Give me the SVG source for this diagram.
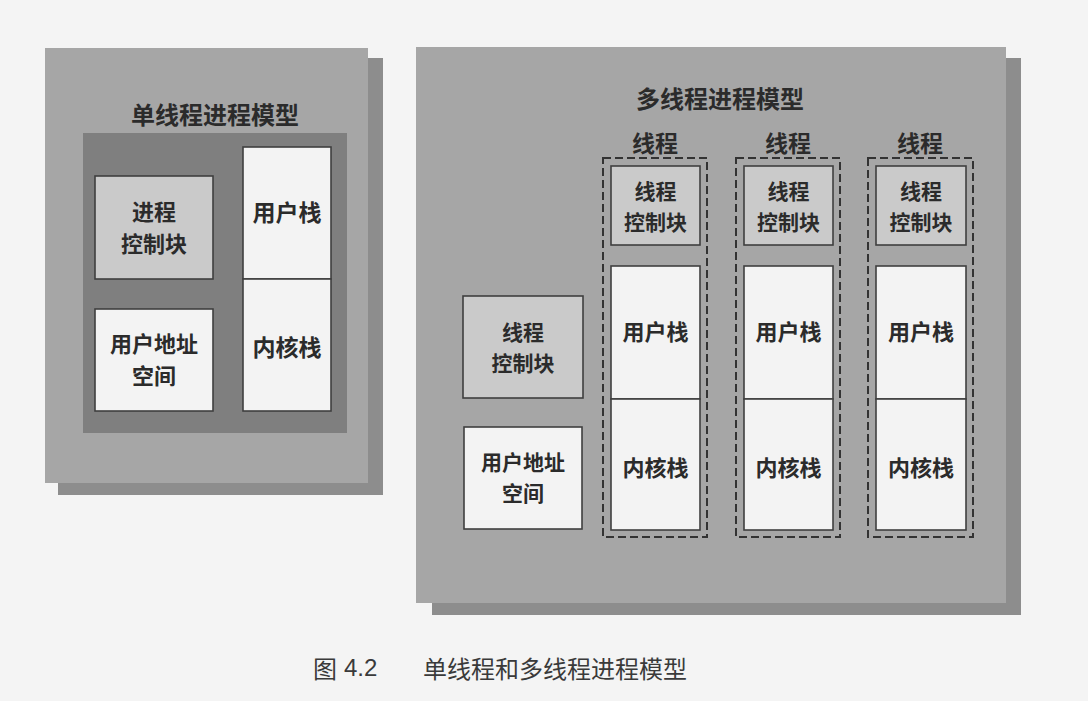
<svg xmlns="http://www.w3.org/2000/svg" width="1088" height="701" viewBox="0 0 1088 701">
<style>
.t{font-family:"Noto Sans CJK SC","Noto Sans CJK JP",sans-serif;font-weight:bold;fill:#2b2b2b;text-anchor:middle;dominant-baseline:central}
.e{font-size:21px}
.f{font-size:22px}
.h{font-size:23px}
.g{font-size:24px}
.panel{fill:#a6a6a6}
.shadow{fill:#8d8d8d}
.dark{fill:#7f7f7f}
.gbox{fill:#cacaca;stroke:#3f3f3f;stroke-width:1.6}
.wbox{fill:#f3f3f3;stroke:#3f3f3f;stroke-width:1.6}
.dash{fill:none;stroke:#333;stroke-width:2;stroke-dasharray:8 4}
.cap{font-family:"Noto Sans CJK SC","Noto Sans CJK JP",sans-serif;font-size:24px;fill:#3a3a3a;dominant-baseline:central}
</style>
<rect x="0" y="0" width="1088" height="701" fill="#f4f4f4"/>

<g id="single-thread-model">
  <rect class="shadow" x="58" y="58" width="325" height="437"/>
  <rect class="panel" x="45" y="48" width="323" height="435"/>
  <text class="t g" x="215" y="113">单线程进程模型</text>
  <rect class="dark" x="83" y="133" width="264" height="300"/>
</g>
<g id="s-pcb">
  <rect class="gbox" x="95" y="176" width="118" height="103"/>
  <text class="t f" x="154" y="210">进程</text>
  <text class="t f" x="154" y="242">控制块</text>
</g>
<g id="s-uas">
  <rect class="wbox" x="95" y="309" width="118" height="102"/>
  <text class="t f" x="154" y="342">用户地址</text>
  <text class="t f" x="154" y="374">空间</text>
</g>
<g id="s-ustack">
  <rect class="wbox" x="243" y="147" width="88" height="132"/>
  <text class="t h" x="287" y="211">用户栈</text>
</g>
<g id="s-kstack">
  <rect class="wbox" x="243" y="279" width="88" height="132"/>
  <text class="t h" x="287" y="346">内核栈</text>
</g>

<g id="multi-thread-model">
  <rect class="shadow" x="432" y="58" width="589" height="557"/>
  <rect class="panel" x="416" y="47" width="590" height="556"/>
  <text class="t g" x="720" y="97">多线程进程模型</text>
</g>
<g id="m-tcb">
  <rect class="gbox" x="463" y="296" width="120" height="102"/>
  <text class="t e" x="523" y="331">线程</text>
  <text class="t e" x="523" y="362">控制块</text>
</g>
<g id="m-uas">
  <rect class="wbox" x="464" y="427" width="118" height="102"/>
  <text class="t e" x="523" y="461">用户地址</text>
  <text class="t e" x="523" y="492">空间</text>
</g>

<g id="thread-1">
  <text class="t h" x="655" y="142">线程</text>
  <rect class="dash" x="603" y="158" width="104" height="379"/>
  <rect class="gbox" x="611" y="166" width="89" height="79"/>
  <text class="t e" x="655.5" y="190">线程</text>
  <text class="t e" x="655.5" y="221">控制块</text>
  <rect class="wbox" x="611" y="266" width="89" height="133"/>
  <text class="t f" x="655.5" y="330">用户栈</text>
  <rect class="wbox" x="611" y="399" width="89" height="131"/>
  <text class="t f" x="655.5" y="466">内核栈</text>
</g>
<g id="thread-2">
  <text class="t h" x="788" y="142">线程</text>
  <rect class="dash" x="736" y="158" width="104" height="379"/>
  <rect class="gbox" x="744" y="166" width="89" height="79"/>
  <text class="t e" x="788.5" y="190">线程</text>
  <text class="t e" x="788.5" y="221">控制块</text>
  <rect class="wbox" x="744" y="266" width="89" height="133"/>
  <text class="t f" x="788.5" y="330">用户栈</text>
  <rect class="wbox" x="744" y="399" width="89" height="131"/>
  <text class="t f" x="788.5" y="466">内核栈</text>
</g>
<g id="thread-3">
  <text class="t h" x="920" y="142">线程</text>
  <rect class="dash" x="868" y="158" width="105" height="379"/>
  <rect class="gbox" x="876" y="166" width="90" height="79"/>
  <text class="t e" x="921" y="190">线程</text>
  <text class="t e" x="921" y="221">控制块</text>
  <rect class="wbox" x="876" y="266" width="90" height="133"/>
  <text class="t f" x="921" y="330">用户栈</text>
  <rect class="wbox" x="876" y="399" width="90" height="131"/>
  <text class="t f" x="921" y="466">内核栈</text>
</g>

<g id="connectors"></g>

<g id="caption">
  <text class="cap" x="313" y="667">图</text>
  <text class="cap" x="344" y="667" style="font-family:'Liberation Sans',sans-serif">4.2</text>
  <text class="cap" x="423" y="667">单线程和多线程进程模型</text>
</g>
</svg>
